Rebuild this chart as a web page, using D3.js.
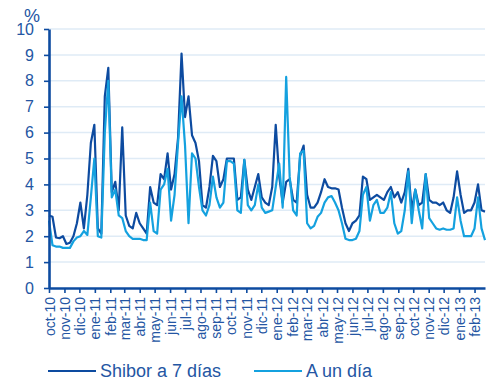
<!DOCTYPE html>
<html>
<head>
<meta charset="utf-8">
<script src="https://cdn.jsdelivr.net/npm/d3@7"></script>
<style>
	body { margin: 0; background: #fff; }
	svg { display: block; font-family: "Liberation Sans", Arial, sans-serif; }
</style>
</head>
<body>
<svg id="chart" width="496" height="380"></svg>
<script>
// weekly readings, first week starting 1 oct 2010
const startDate = new Date(2010, 9, 1);
const monthNames = [ 'ene', 'feb', 'mar', 'abr', 'may', 'jun', 'jul', 'ago', 'sep', 'oct', 'nov', 'dic' ];
const yTicks = [ 0, 1, 2, 3, 4, 5, 6, 7, 8, 9, 10 ];
const seriesNames = [ 'Shibor a 7 días', 'A un día' ];

const shibor7 = [
	2.8, 2.75, 1.95, 1.92, 2.0, 1.7, 1.75, 2.0, 2.5, 3.3,
	2.3, 3.6, 5.6, 6.3, 2.3, 2.1, 7.4, 8.5, 3.7, 4.1,
	3.0, 6.2, 2.8, 2.4, 2.3, 2.9, 2.5, 2.3, 2.1, 3.9,
	3.3, 3.2, 4.4, 4.2, 5.2, 3.8, 4.4, 5.8, 9.05, 6.6,
	7.4, 5.9, 5.6, 4.9, 3.2, 3.1, 3.9, 5.1, 4.9, 3.9,
	4.2, 5.0, 5.0, 5.0, 3.4, 3.5, 4.95, 3.8, 3.4, 3.9,
	4.4, 3.5, 3.3, 3.2, 3.9, 6.3, 4.3, 3.3, 4.1, 4.2,
	3.4, 3.3, 5.1, 5.5, 3.6, 3.1, 3.1, 3.3, 3.7, 4.2,
	3.9, 3.85, 3.85, 3.8, 3.1, 2.5, 2.2, 2.5, 2.6, 2.8,
	4.3, 4.2, 3.4, 3.5, 3.6, 3.5, 3.4, 3.7, 3.9, 3.5,
	3.7, 3.3, 3.7, 4.6, 3.0, 3.8, 3.2, 3.3, 4.4, 3.4,
	3.3, 3.3, 3.2, 3.3, 3.0, 2.9, 3.5, 4.5, 3.6, 2.9,
	3.0, 3.0, 3.3, 4.0, 3.0, 2.95
];
const overnight = [
	2.6, 1.65, 1.6, 1.6, 1.55, 1.55, 1.55, 1.8, 1.95, 2.0,
	2.2, 2.05, 3.5, 5.0, 2.0, 1.95, 6.0, 8.0, 3.5, 3.8,
	2.8, 2.7, 2.2, 2.0, 1.9, 1.9, 1.9, 1.85, 1.85, 3.3,
	2.2, 2.1, 3.8, 4.0, 4.6, 2.6, 3.6, 5.6, 7.4, 5.5,
	2.5, 5.2, 5.0, 3.9, 3.0, 2.8, 3.2, 4.3, 3.5, 3.1,
	3.3, 4.9, 4.9, 4.8, 3.0, 2.9, 4.95, 3.2, 3.0, 3.2,
	4.0, 3.1, 2.9, 2.95, 3.0, 3.9, 4.8, 3.1, 8.15, 4.3,
	3.0, 2.8, 5.2, 5.3, 2.5, 2.3, 2.4, 2.75, 2.9, 3.3,
	3.5, 3.55, 3.3, 3.0, 2.5, 1.9, 1.85, 1.85, 1.9, 2.2,
	3.6, 3.9, 2.6, 3.2, 3.4, 2.9, 2.9, 3.1, 3.7, 2.5,
	2.1, 2.2, 3.0, 4.5, 2.5, 3.8, 3.0, 2.3, 4.4, 2.7,
	2.5, 2.3, 2.25, 2.3, 2.25, 2.25, 2.3, 3.5, 2.6, 2.0,
	2.0, 2.0, 2.3, 3.5, 2.3, 1.85
];

const Chart = {
	left: 49, right: 485, top: 29, bottom: 288,
	darkBlue: '#0d4ba0', lightBlue: '#14a1df', textBlue: '#2456a3', gridColor: '#dfebf6',
	svg: null, xScale: null, yScale: null, dates: null,

	init: function() {
		const self = this;
		self.svg = d3.select('#chart');
		self.dates = shibor7.map(function(d, i) { return d3.timeDay.offset(startDate, i * 7); });

		self.xScale = d3.scaleTime()
			.domain([ self.dates[0], self.dates[self.dates.length - 1] ])
			.range([ self.left, self.right ]);
		self.yScale = d3.scaleLinear()
			.domain([ 0, 10 ])
			.range([ self.bottom, self.top ]);

		self.drawGrid();
		self.drawLine(shibor7, self.darkBlue);
		self.drawLine(overnight, self.lightBlue);
		self.drawAxes();
		self.drawLegend();
	},
	drawGrid: function() {
		const self = this;
		self.svg.append('g').selectAll('line')
			.data(yTicks.slice(1))
			.enter().append('line')
			.attr('x1', self.left)
			.attr('x2', self.right)
			.attr('y1', function(d) { return self.yScale(d); })
			.attr('y2', function(d) { return self.yScale(d); })
			.style('stroke', self.gridColor)
			.style('stroke-width', 1.5);
	},
	drawLine: function(values, color) {
		const self = this;
		let line = d3.line()
			.x(function(d, i) { return self.xScale(self.dates[i]); })
			.y(function(d) { return self.yScale(d); });

		self.svg.append('path')
			.datum(values)
			.attr('d', line)
			.style('fill', 'none')
			.style('stroke', color)
			.style('stroke-width', 2.2)
			.style('stroke-linejoin', 'round');
	},
	drawAxes: function() {
		const self = this;
		let months = d3.timeMonth.range(startDate, new Date(2013, 2, 1));

		let xAxis = self.svg.append('g')
			.attr('transform', 'translate(0,' + self.bottom + ')')
			.call(d3.axisBottom(self.xScale)
				.tickValues(months)
				.tickSize(5)
				.tickSizeOuter(0)
				.tickFormat(function(d) {
					return monthNames[d.getMonth()] + '-' + String(d.getFullYear()).slice(2);
				}));
		xAxis.select('.domain').style('stroke', self.darkBlue).style('stroke-width', 2.6);
		xAxis.selectAll('.tick line').style('stroke', self.darkBlue).style('stroke-width', 1.6);
		xAxis.selectAll('.tick text')
			.attr('transform', 'rotate(-90)')
			.attr('x', -9)
			.attr('y', 0)
			.attr('dy', '0.36em')
			.style('text-anchor', 'end')
			.style('font-size', '14px')
			.style('fill', self.textBlue);

		let yAxis = self.svg.append('g')
			.attr('transform', 'translate(' + self.left + ',0)')
			.call(d3.axisLeft(self.yScale)
				.tickValues(yTicks)
				.tickSize(5)
				.tickSizeOuter(0)
				.tickPadding(10));
		yAxis.select('.domain').style('stroke', self.darkBlue).style('stroke-width', 2.6);
		yAxis.selectAll('.tick line').style('stroke', self.darkBlue).style('stroke-width', 1.6);
		yAxis.selectAll('.tick text')
			.style('font-size', '16px')
			.style('fill', self.textBlue);

		self.svg.append('text')
			.attr('x', 24)
			.attr('y', 22)
			.style('font-size', '18px')
			.style('fill', self.textBlue)
			.text('%');
	},
	drawLegend: function() {
		const self = this;
		let items = [
			{ name: seriesNames[0], color: self.darkBlue, x: 48 },
			{ name: seriesNames[1], color: self.lightBlue, x: 254 }
		];
		let g = self.svg.append('g');
		items.forEach(function(item) {
			g.append('line')
				.attr('x1', item.x)
				.attr('x2', item.x + 48)
				.attr('y1', 371)
				.attr('y2', 371)
				.style('stroke', item.color)
				.style('stroke-width', 2);
			g.append('text')
				.attr('x', item.x + 52)
				.attr('y', 377)
				.style('font-size', '18px')
				.style('fill', self.textBlue)
				.text(item.name);
		});
	}
};

Chart.init();
</script>
</body>
</html>
